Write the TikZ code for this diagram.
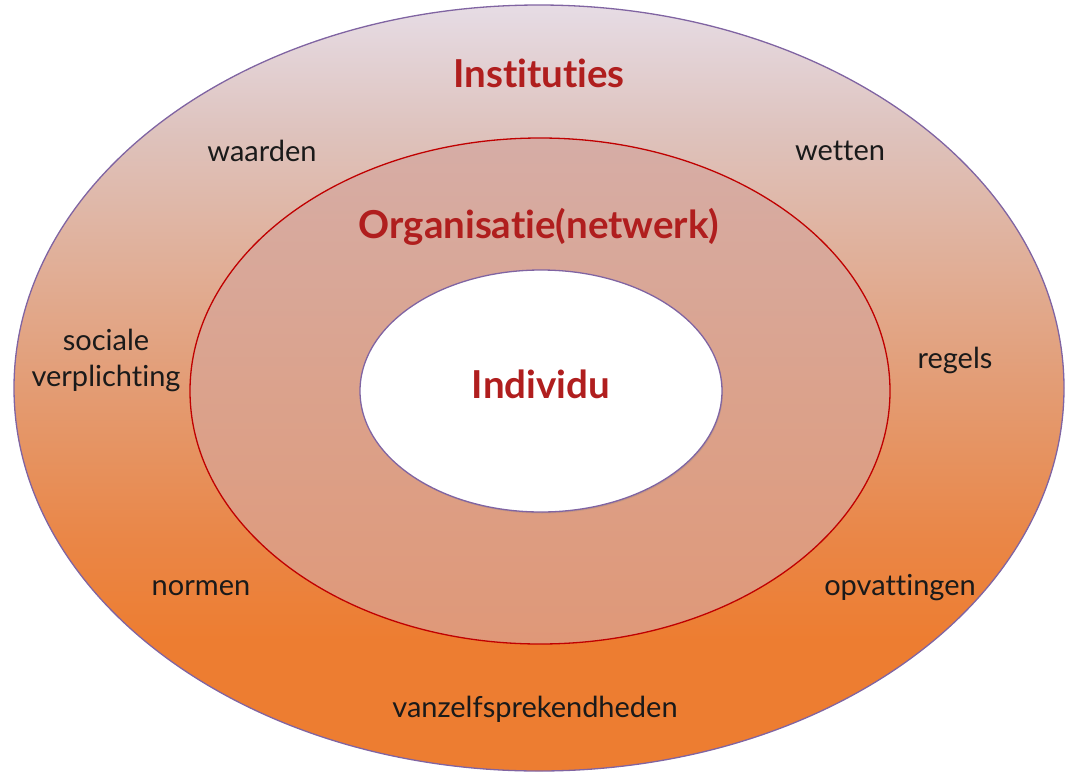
\documentclass[tikz,border=0pt]{standalone}
\usepackage{fontspec}
\setmainfont[Ligatures={NoCommon}]{Lato}
\usetikzlibrary{shadows}
\definecolor{outerline}{HTML}{8064A2}
\definecolor{midline}{HTML}{C00000}
\definecolor{titlered}{HTML}{B01E1E}
\definecolor{bodytext}{HTML}{1A1A1A}
\pgfdeclareverticalshading{outershade}{100bp}{
  color(0bp)=({rgb,255:red,237;green,125;blue,49});
  color(33.5bp)=({rgb,255:red,237;green,125;blue,49});
  color(40bp)=({rgb,255:red,234;green,134;blue,70});
  color(50bp)=({rgb,255:red,227;green,156;blue,116});
  color(66.5bp)=({rgb,255:red,222;green,194;blue,188});
  color(75bp)=({rgb,255:red,230;green,220;blue,229});
  color(100bp)=({rgb,255:red,230;green,220;blue,229})}
\pgfdeclareverticalshading{midshade}{100bp}{
  color(0bp)=({rgb,255:red,223;green,152;blue,120});
  color(25bp)=({rgb,255:red,223;green,152;blue,120});
  color(50bp)=({rgb,255:red,219;green,162;blue,140});
  color(75bp)=({rgb,255:red,214;green,173;blue,166});
  color(100bp)=({rgb,255:red,214;green,173;blue,166})}
\tikzset{
  title/.style={font=\bfseries\fontsize{38.5}{44}\selectfont, text=titlered},
  label/.style={font=\fontsize{29}{36}\selectfont, text=bodytext, align=center},
}
\begin{document}
\begin{tikzpicture}[x=1pt,y=-1pt]
\useasboundingbox (0,0) rectangle (1072,780);
\path[shading=outershade, draw=outerline, line width=1.3pt] (539,388) ellipse [x radius=525, y radius=383];
\path[shading=midshade, draw=midline, line width=1.3pt] (540,391) ellipse [x radius=350, y radius=253];
\path[fill=white, draw=outerline, line width=1.3pt, drop shadow={opacity=0.25, shadow xshift=1pt, shadow yshift=-1.5pt}] (541,391) ellipse [x radius=181, y radius=121];
\node[title] (inst) at (539,73) {Instituties};
\node[title] (org) at (539,227) {Organisatie(netwerk)};
\node[title] (ind) at (541,384) {Individu};
\node[label] (waarden) at (262,151) {waarden};
\node[label] (wetten) at (840,151) {wetten};
\node[label] (soc) at (106,360) {sociale\\verplichting};
\node[label] (regels) at (955,360) {regels};
\node[label] (normen) at (201,588) {normen};
\node[label] (opv) at (900,588) {opvattingen};
\node[label] (vanz) at (535,709) {vanzelfsprekendheden};
\end{tikzpicture}
\end{document}
